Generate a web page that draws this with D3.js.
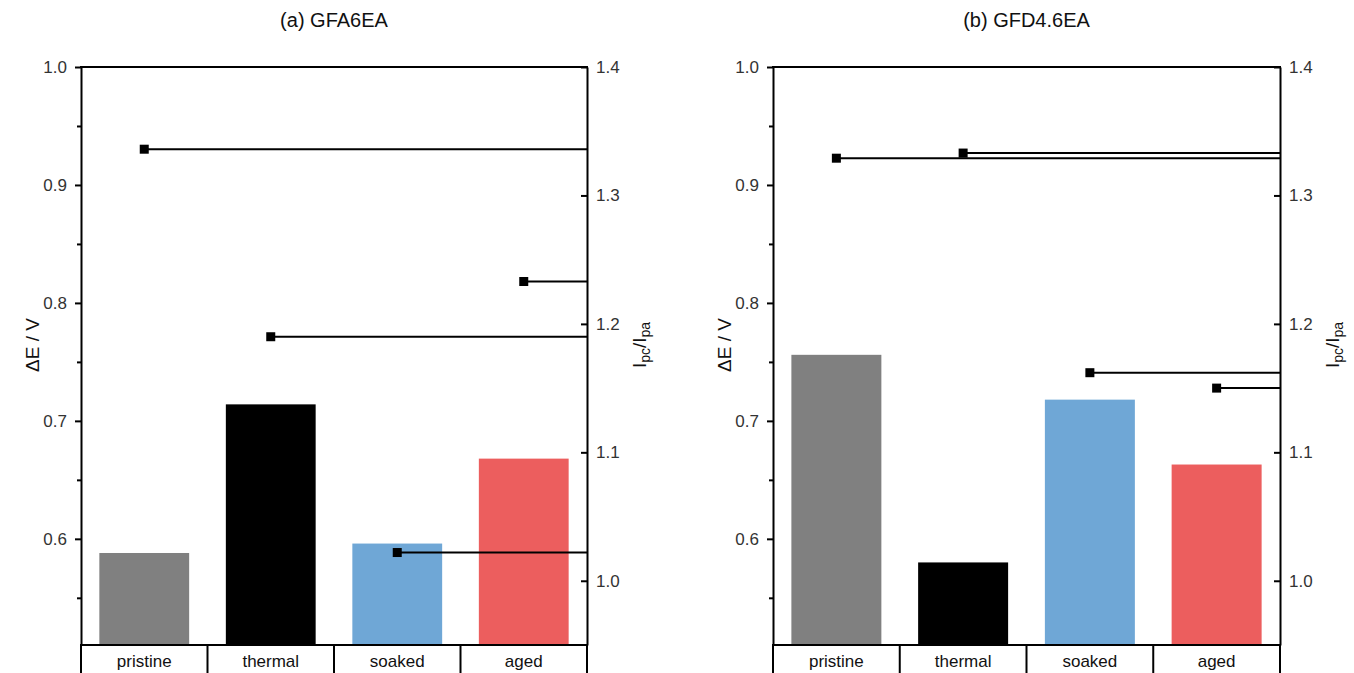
<!DOCTYPE html>
<html>
<head>
<meta charset="utf-8">
<script src="https://cdn.jsdelivr.net/npm/d3@7"></script>
<style>
  body { margin: 0; background: #fff; }
  text { font-family: "Liberation Sans", Arial, sans-serif; }
</style>
</head>
<body>
<script>
// data
var categories = ["pristine", "thermal", "soaked", "aged"]
var barColors = ["#808080", "#000000", "#6fa7d6", "#ec5e5e"]
var titles = ["(a) GFA6EA", "(b) GFD4.6EA"]
var deltaE_a = [0.588, 0.714, 0.596, 0.668]
var ratio_a = [1.336, 1.190, 1.022, 1.233]
var deltaE_b = [0.756, 0.580, 0.718, 0.663]
var ratio_b = [1.329, 1.333, 1.162, 1.150]
var leftTicks = [0.6, 0.7, 0.8, 0.9, 1.0]
var leftMinor = [0.55, 0.65, 0.75, 0.85, 0.95]
var rightTicks = [1.0, 1.1, 1.2, 1.3, 1.4]

var W = 1354, H = 673
var svg = d3.select("body").append("svg")
  .attr("width", W).attr("height", H)

// note: "top" is taken by window.top, so plotTop
var plotTop = 67, plotBottom = 645, labelY = 345
var panels = [
  {x0: 81, x1: 587, title: titles[0], de: deltaE_a, ratio: ratio_a},
  {x0: 773, x1: 1280, title: titles[1], de: deltaE_b, ratio: ratio_b}
]

var drawPanel = function(p){
  var g = svg.append("g")

  var x = d3.scaleBand().domain(categories).range([p.x0, p.x1]).padding(0)
  var y = d3.scaleLinear().domain([0.51, 1.0]).range([plotBottom, plotTop])
  var y2 = d3.scaleLinear().domain([0.95, 1.4]).range([plotBottom, plotTop])
  var bw = x.bandwidth() * 0.71

  // bars
  g.selectAll("rect.bar").data(p.de).enter().append("rect")
    .attr("class", "bar")
    .attr("x", function(d, i){ return x(categories[i]) + (x.bandwidth() - bw) / 2 })
    .attr("width", bw)
    .attr("y", function(d){ return y(d) })
    .attr("height", function(d){ return plotBottom - y(d) })
    .attr("fill", function(d, i){ return barColors[i] })

  // ratio lines to right axis
  g.selectAll("line.drop").data(p.ratio).enter().append("line")
    .attr("class", "drop")
    .attr("x1", function(d, i){ return x(categories[i]) + x.bandwidth() / 2 })
    .attr("x2", p.x1)
    .attr("y1", function(d){ return y2(d) })
    .attr("y2", function(d){ return y2(d) })
    .attr("stroke", "#000").attr("stroke-width", 2)

  g.selectAll("rect.pt").data(p.ratio).enter().append("rect")
    .attr("class", "pt")
    .attr("x", function(d, i){ return x(categories[i]) + x.bandwidth() / 2 - 4.5 })
    .attr("y", function(d){ return y2(d) - 4.5 })
    .attr("width", 9).attr("height", 9)
    .attr("fill", "#000")

  // left axis
  var la = g.append("g").attr("transform", "translate(" + p.x0 + ",0)")
    .call(d3.axisLeft(y).tickValues(leftTicks).tickSize(6).tickSizeOuter(0)
      .tickPadding(8).tickFormat(d3.format(".1f")))
  g.append("g").attr("transform", "translate(" + p.x0 + ",0)")
    .call(d3.axisLeft(y).tickValues(leftMinor).tickSize(4).tickSizeOuter(0).tickFormat(""))
    .select(".domain").remove()

  // right axis, ticks inward
  var ra = g.append("g").attr("transform", "translate(" + p.x1 + ",0)")
    .call(d3.axisRight(y2).tickValues(rightTicks).tickSize(-6).tickSizeOuter(0)
      .tickPadding(9).tickFormat(d3.format(".1f")))

  ;[la, ra].forEach(function(a){
    a.select(".domain").attr("stroke-width", 2)
    a.selectAll(".tick text").attr("font-size", 17).attr("fill", "#333")
      .attr("font-family", "'Liberation Sans', Arial, sans-serif")
  })
  g.selectAll(".tick line").attr("stroke-width", 2)

  // frame top + bottom
  g.append("line").attr("x1", p.x0 - 1).attr("x2", p.x1 + 1)
    .attr("y1", plotTop).attr("y2", plotTop).attr("stroke", "#000").attr("stroke-width", 2)
  g.append("line").attr("x1", p.x0 - 1).attr("x2", p.x1 + 1)
    .attr("y1", plotBottom).attr("y2", plotBottom).attr("stroke", "#000").attr("stroke-width", 2)

  // category boxes below
  var edges = categories.map(function(c){ return x(c) }).concat([p.x1])
  g.selectAll("line.sep").data(edges).enter().append("line")
    .attr("class", "sep")
    .attr("x1", function(d){ return d }).attr("x2", function(d){ return d })
    .attr("y1", plotBottom).attr("y2", H + 5)
    .attr("stroke", "#000").attr("stroke-width", 2)
  g.selectAll("text.cat").data(categories).enter().append("text")
    .attr("class", "cat")
    .attr("x", function(d){ return x(d) + x.bandwidth() / 2 })
    .attr("y", 667)
    .attr("text-anchor", "middle")
    .attr("font-size", 17).attr("fill", "#111")
    .text(function(d){ return d })

  // title
  g.append("text").attr("x", (p.x0 + p.x1) / 2).attr("y", 27)
    .attr("text-anchor", "middle").attr("font-size", 20).attr("fill", "#111")
    .text(p.title)

  // axis titles
  g.append("text")
    .attr("transform", "translate(" + (p.x0 - 42) + "," + labelY + ") rotate(-90)")
    .attr("text-anchor", "middle").attr("font-size", 19).attr("fill", "#111")
    .text("\u0394E / V")

  var rt = g.append("text")
    .attr("transform", "translate(" + (p.x1 + 59) + "," + labelY + ") rotate(-90)")
    .attr("text-anchor", "middle").attr("font-size", 19).attr("fill", "#111")
  rt.append("tspan").text("I")
  rt.append("tspan").attr("font-size", 14).attr("dy", 4).text("pc")
  rt.append("tspan").attr("dy", -4).text("/I")
  rt.append("tspan").attr("font-size", 14).attr("dy", 4).text("pa")
}

panels.forEach(drawPanel)
</script>
</body>
</html>
